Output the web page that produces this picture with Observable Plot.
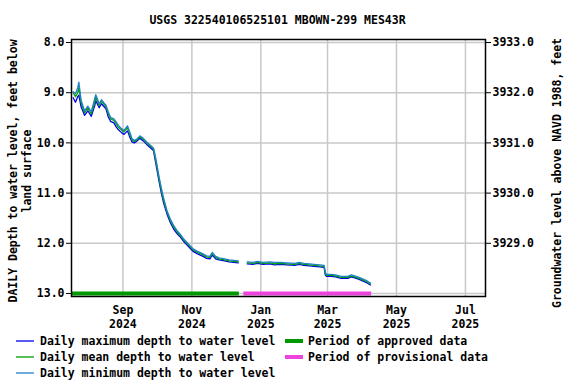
<!DOCTYPE html>
<html>
<head>
<meta charset="utf-8">
<script src="https://cdn.jsdelivr.net/npm/d3@7"></script>
<script src="https://cdn.jsdelivr.net/npm/@observablehq/plot@0.6"></script>
<style>
  html, body { margin: 0; padding: 0; background: #fff; }
</style>
</head>
<body>
<div id="chart"></div>
<script>
const title = "USGS 322540106525101 MBOWN-299 MES43R";
const leftTitle1 = "DAILY Depth to water level, feet below";
const leftTitle2 = "land surface";
const rightTitle = "Groundwater level above NAVD 1988, feet";

const dates = [
  "2024-07-19","2024-07-21","2024-07-23","2024-07-24","2024-07-26","2024-07-29","2024-08-01","2024-08-04",
  "2024-08-07","2024-08-08","2024-08-11","2024-08-13","2024-08-15","2024-08-17","2024-08-19","2024-08-21",
  "2024-08-24","2024-08-26","2024-08-28","2024-08-31","2024-09-02","2024-09-05","2024-09-07","2024-09-09",
  "2024-09-11","2024-09-13","2024-09-16","2024-09-19","2024-09-22","2024-09-25","2024-09-28","2024-09-30",
  "2024-10-03","2024-10-05","2024-10-07","2024-10-10","2024-10-13","2024-10-16","2024-10-19","2024-10-22",
  "2024-10-25","2024-10-30","2024-11-02","2024-11-06","2024-11-10","2024-11-14","2024-11-17","2024-11-19",
  "2024-11-22","2024-11-25","2024-11-30","2024-12-04","2024-12-08","2024-12-12","2024-12-16","2024-12-20",
  "2024-12-25","2024-12-29","2025-01-03","2025-01-09","2025-01-13","2025-01-18","2025-01-24","2025-01-31",
  "2025-02-04","2025-02-08","2025-02-13","2025-02-17","2025-02-22","2025-02-26","2025-02-27","2025-02-28",
  "2025-03-04","2025-03-08","2025-03-13","2025-03-19","2025-03-22","2025-03-25","2025-03-29","2025-04-02",
  "2025-04-05","2025-04-08"
];
const meanDepth = [
  9.00,9.08,9.00,8.90,9.20,9.40,9.30,9.42,
  9.20,9.08,9.25,9.17,9.22,9.28,9.42,9.52,
  9.55,9.62,9.69,9.75,9.78,9.70,9.82,9.94,
  9.97,9.95,9.88,9.93,10.00,10.06,10.12,10.35,
  10.72,10.95,11.15,11.38,11.55,11.68,11.78,11.85,
  11.94,12.06,12.13,12.18,12.22,12.27,12.28,12.20,
  12.28,12.31,12.33,12.35,12.36,12.37,null,12.39,
  12.40,12.38,12.40,12.39,12.41,12.40,12.41,12.42,
  12.40,12.42,12.43,12.44,12.45,12.46,12.60,12.64,
  12.64,12.65,12.68,12.68,12.65,12.67,12.70,12.74,
  12.77,12.81
];
const maxDepth = [
  9.10,9.19,9.08,9.05,9.28,9.45,9.36,9.47,
  9.26,9.16,9.30,9.22,9.27,9.32,9.48,9.57,
  9.60,9.68,9.74,9.80,9.83,9.76,9.88,9.98,
  10.00,9.97,9.91,9.96,10.03,10.09,10.15,10.40,
  10.77,11.00,11.20,11.42,11.59,11.72,11.81,11.88,
  11.97,12.09,12.16,12.21,12.25,12.30,12.31,12.23,
  12.31,12.33,12.35,12.37,12.38,12.39,null,12.41,
  12.42,12.40,12.42,12.41,12.43,12.42,12.43,12.44,
  12.42,12.44,12.45,12.46,12.47,12.48,12.63,12.66,
  12.66,12.67,12.70,12.70,12.67,12.69,12.72,12.76,
  12.79,12.83
];
const minDepth = [
  8.98,9.02,8.90,8.79,9.15,9.36,9.27,9.38,
  9.12,9.04,9.22,9.14,9.20,9.25,9.38,9.49,
  9.52,9.58,9.65,9.72,9.75,9.66,9.78,9.91,
  9.95,9.93,9.86,9.91,9.98,10.04,10.10,10.30,
  10.68,10.90,11.10,11.35,11.52,11.65,11.75,11.83,
  11.92,12.04,12.11,12.16,12.20,12.25,12.26,12.18,
  12.26,12.29,12.31,12.33,12.34,12.35,null,12.37,
  12.38,12.36,12.38,12.37,12.38,12.38,12.39,12.40,
  12.38,12.40,12.41,12.42,12.43,12.44,12.58,12.62,
  12.62,12.63,12.66,12.66,12.63,12.65,12.68,12.72,
  12.75,12.79
];

const periodNames = ["Period of approved data", "Period of provisional data"];
const periodStart = ["2024-07-18", "2024-12-17"];
const periodEnd = ["2024-12-13", "2025-04-09"];

const xTickDates = ["2024-09-01","2024-11-01","2025-01-01","2025-03-01","2025-05-01","2025-07-01"];
const yTicks = [8, 9, 10, 11, 12, 13];
const rightTicks = [8, 9, 10, 11, 12];
const elevationOffset = 3941;

const seriesNames = ["Daily maximum depth to water level", "Daily mean depth to water level", "Daily minimum depth to water level"];
const seriesColors = ["#0000ee", "#00a000", "#2080c8"];
const periodColors = ["#009900", "#ee44dd"];

const parse = d3.utcParse("%Y-%m-%d");
function rows(values) {
  return dates.map((d, i) => ({date: parse(d), depth: values[i] == null ? NaN : values[i]}));
}
const periods = periodNames.map((n, i) => ({name: n, x1: parse(periodStart[i]), x2: parse(periodEnd[i]), y: 13, color: periodColors[i]}));
const xTicks = xTickDates.map(parse);
const fmtM = d3.utcFormat("%b"), fmtY = d3.utcFormat("%Y");
const FONT = "DejaVu Sans Mono";

const svg = Plot.plot({
  width: 576,
  height: 384,
  marginLeft: 71,
  marginRight: 91,
  marginTop: 39,
  marginBottom: 88,
  style: {fontFamily: FONT, fontSize: "11.5px", fontWeight: "bold", background: "#fff", color: "#000"},
  x: {type: "utc", domain: [new Date(Date.UTC(2024, 6, 17, 12)), new Date(Date.UTC(2025, 6, 18, 18))]},
  y: {domain: [7.94, 13.06], reverse: true},
  marks: [
    Plot.gridX(xTicks, {stroke: "#c8c8c8", strokeOpacity: 1, strokeWidth: 1.5}),
    Plot.gridY(yTicks, {stroke: "#c8c8c8", strokeOpacity: 1, strokeWidth: 1.5}),
    Plot.axisX(xTicks, {tickSize: 0, tickPadding: 8, lineHeight: 1.17, tickFormat: d => fmtM(d) + "\n" + fmtY(d), label: null, fontWeight: "bold"}),
    Plot.axisY(yTicks, {anchor: "left", tickSize: 5, tickPadding: 2, tickFormat: d => d.toFixed(1), label: null}),
    Plot.axisY(rightTicks, {anchor: "right", tickSize: 5, tickPadding: 2, tickFormat: d => (elevationOffset - d).toFixed(1), label: null}),
    Plot.line(rows(maxDepth), {x: "date", y: "depth", stroke: seriesColors[0], strokeWidth: 1.3}),
    Plot.line(rows(meanDepth), {x: "date", y: "depth", stroke: seriesColors[1], strokeWidth: 1.3}),
    Plot.line(rows(minDepth), {x: "date", y: "depth", stroke: seriesColors[2], strokeWidth: 1.3}),
    Plot.ruleY(periods, {y: "y", x1: "x1", x2: "x2", stroke: "color", strokeWidth: 4}),
    Plot.frame({stroke: "#000", strokeWidth: 1.5})
  ]
});

const s = d3.select(svg);
const txt = (x, y, t, opts = {}) => {
  const e = s.append("text").attr("x", x).attr("y", y).text(t)
    .attr("font-family", FONT).attr("font-size", "11.5px").attr("font-weight", "bold")
    .attr("dominant-baseline", "central").attr("text-anchor", opts.anchor || "start").attr("fill", "#000");
  if (opts.rotate) e.attr("transform", `rotate(-90 ${x} ${y})`);
  return e;
};
txt(277.5, 20, title, {anchor: "middle"});
txt(13, 171, leftTitle1, {anchor: "middle", rotate: true});
txt(27, 171, leftTitle2, {anchor: "middle", rotate: true});
txt(557, 173, rightTitle, {anchor: "middle", rotate: true});

const legendRowsY = [341, 357, 373];
seriesNames.forEach((n, i) => {
  s.append("line").attr("x1", 16).attr("x2", 34).attr("y1", legendRowsY[i]).attr("y2", legendRowsY[i])
    .attr("stroke", seriesColors[i]).attr("stroke-width", 1.3);
  txt(40, legendRowsY[i], n);
});
periods.forEach((p, i) => {
  s.append("line").attr("x1", 285).attr("x2", 303).attr("y1", legendRowsY[i]).attr("y2", legendRowsY[i])
    .attr("stroke", p.color).attr("stroke-width", 4);
  txt(308, legendRowsY[i], p.name);
});

document.getElementById("chart").appendChild(svg);
</script>
</body>
</html>
